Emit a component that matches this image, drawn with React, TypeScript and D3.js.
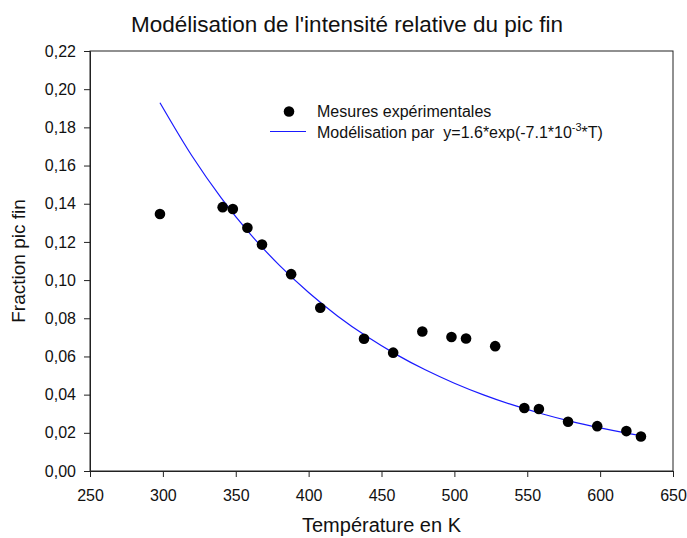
import { useEffect, useRef } from "react";
import * as d3 from "d3";

// mesures expérimentales (T en K, fraction pic fin)
const tempMeasured = [298, 341, 348, 358, 368, 388, 408, 438, 458, 478, 498, 508, 528, 548, 558, 578, 598, 618, 628];
const fractionMeasured = [0.1346, 0.1382, 0.1372, 0.1274, 0.1186, 0.1031, 0.0855, 0.0693, 0.062, 0.0731, 0.0702, 0.0694, 0.0654, 0.033, 0.0325, 0.0258, 0.0235, 0.0209, 0.0181];

// courbe de modélisation
const tempModel = [298, 320, 340, 360, 380, 400, 420, 440, 460, 480, 500, 520, 540, 560, 580, 600, 620, 628];
const fractionModel = [0.1929, 0.165, 0.1431, 0.1241, 0.1077, 0.0935, 0.0811, 0.0704, 0.0611, 0.053, 0.046, 0.0399, 0.0346, 0.03, 0.026, 0.0226, 0.0196, 0.0185];

const xTicks = [250, 300, 350, 400, 450, 500, 550, 600, 650];
const yTicks = [0, 0.02, 0.04, 0.06, 0.08, 0.1, 0.12, 0.14, 0.16, 0.18, 0.2, 0.22];

const W = 687;
const H = 538;
const FONT = "'Liberation Sans', Arial, sans-serif";

export default function App() {
  const ref = useRef<SVGSVGElement | null>(null);

  useEffect(() => {
    const svg = d3.select(ref.current!);
    svg.selectAll("*").remove();

    const margin = { top: 51, right: 14, bottom: 67, left: 90 };
    const w = W - margin.left - margin.right;
    const h = H - margin.top - margin.bottom;

    const x = d3.scaleLinear().domain([250, 650]).range([0, w]);
    const y = d3.scaleLinear().domain([0, 0.22]).range([h, 0]);

    const g = svg.append("g").attr("transform", `translate(${margin.left},${margin.top})`);

    // cadre
    g.append("rect")
      .attr("width", w)
      .attr("height", h)
      .attr("fill", "none")
      .attr("stroke", "#222")
      .attr("stroke-width", 1);

    const fmt = (v: number) => v.toFixed(2).replace(".", ",");

    const yAxis = g.append("g").call(
      d3.axisLeft(y).tickValues(yTicks).tickSize(6).tickPadding(8).tickFormat((d) => fmt(d as number))
    );
    const xAxis = g
      .append("g")
      .attr("transform", `translate(0,${h})`)
      .call(d3.axisBottom(x).tickValues(xTicks).tickSize(6).tickPadding(13).tickFormat((d) => String(d)));

    [xAxis, yAxis].forEach((a) => {
      a.select(".domain").attr("stroke", "#222");
      a.selectAll("line").attr("stroke", "#222");
      a.selectAll("text").style("font", `16px ${FONT}`).attr("fill", "#111");
    });

    // modélisation
    const line = d3
      .line<number>()
      .x((_, i) => x(tempModel[i]))
      .y((d) => y(d))
      .curve(d3.curveMonotoneX);

    g.append("path")
      .datum(fractionModel)
      .attr("d", line)
      .attr("fill", "none")
      .attr("stroke", "#1a1aff")
      .attr("stroke-width", 1.2);

    // mesures
    g.selectAll("circle.pt")
      .data(fractionMeasured)
      .join("circle")
      .attr("class", "pt")
      .attr("cx", (_, i) => x(tempMeasured[i]))
      .attr("cy", (d) => y(d))
      .attr("r", 5.3)
      .attr("fill", "#000");

    // légende
    const leg = svg.append("g").style("font", `16px ${FONT}`);
    leg.append("circle").attr("cx", 289).attr("cy", 111.5).attr("r", 5.3).attr("fill", "#000");
    leg.append("text").attr("x", 317).attr("y", 117).attr("fill", "#111").text("Mesures expérimentales");
    leg.append("line")
      .attr("x1", 270).attr("x2", 306)
      .attr("y1", 131.5).attr("y2", 131.5)
      .attr("stroke", "#1a1aff").attr("stroke-width", 1.2);
    const t2 = leg.append("text").attr("x", 317).attr("y", 138).attr("fill", "#111");
    t2.append("tspan").attr("xml:space", "preserve").text("Modélisation par  y=1.6*exp(-7.1*10");
    t2.append("tspan").attr("dy", -7).style("font-size", "11px").text("-3");
    t2.append("tspan").attr("dy", 7).text("*T)");

    // titres
    svg.append("text")
      .attr("x", 347)
      .attr("y", 32)
      .attr("text-anchor", "middle")
      .style("font", `22.5px ${FONT}`)
      .attr("fill", "#111")
      .text("Modélisation de l'intensité relative du pic fin");

    svg.append("text")
      .attr("x", margin.left + w / 2)
      .attr("y", 532)
      .attr("text-anchor", "middle")
      .style("font", `20px ${FONT}`)
      .attr("fill", "#111")
      .text("Température en K");

    svg.append("text")
      .attr("transform", `translate(25,${margin.top + h / 2}) rotate(-90)`)
      .attr("text-anchor", "middle")
      .style("font", `19px ${FONT}`)
      .attr("fill", "#111")
      .text("Fraction pic fin");
  }, []);

  return (
    <svg
      ref={ref}
      width={W}
      height={H}
      style={{ position: "absolute", left: 0, top: 0, background: "#fff" }}
    />
  );
}
